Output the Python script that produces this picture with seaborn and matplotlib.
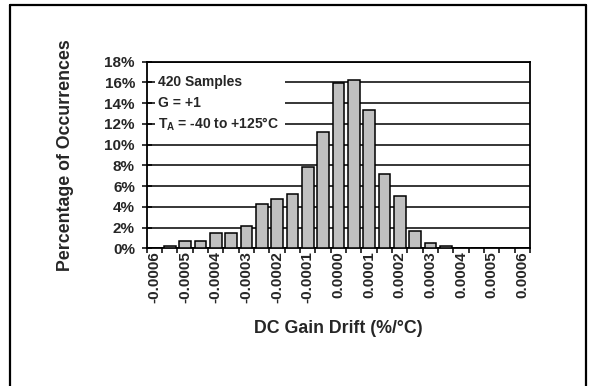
import matplotlib
matplotlib.use("Agg")
import matplotlib.pyplot as plt
import seaborn as sns
import pandas as pd
from matplotlib.patches import Rectangle

# ---- data ----
drift_bins = [-0.0006, -0.00055, -0.0005, -0.00045, -0.0004, -0.00035, -0.0003,
              -0.00025, -0.0002, -0.00015, -0.0001, -0.00005, 0.0, 0.00005,
              0.0001, 0.00015, 0.0002, 0.00025, 0.0003, 0.00035, 0.0004,
              0.00045, 0.0005, 0.00055, 0.0006]
occurrence_pct = [0.0, 0.24, 0.71, 0.71, 1.43, 1.43, 2.14, 4.29, 4.76, 5.24,
                  7.86, 11.19, 15.95, 16.19, 13.33, 7.14, 5.00, 1.67, 0.48, 0.24,
                  0.0, 0.0, 0.0, 0.0, 0.0]
x_tick_labels = ["-0.0006", "-0.0005", "-0.0004", "-0.0003", "-0.0002", "-0.0001",
                 "0.0000", "0.0001", "0.0002", "0.0003", "0.0004", "0.0005", "0.0006"]
y_ticks = [0, 2, 4, 6, 8, 10, 12, 14, 16, 18]
annotation_lines = ["420 Samples", "G = +1", "T$_\\mathrm{A}$ = -40 to +125°C"]

sns.set_style("white")
plt.rcParams['font.family'] = ['Liberation Sans', 'DejaVu Sans']
plt.rcParams['font.weight'] = 'bold'
plt.rcParams['mathtext.fontset'] = 'custom'
plt.rcParams['mathtext.rm'] = 'Liberation Sans:bold'
plt.rcParams['mathtext.it'] = 'Liberation Sans:bold'
plt.rcParams['mathtext.bf'] = 'Liberation Sans:bold'

df = pd.DataFrame({"bin": [f"{v:.5f}" for v in drift_bins], "pct": occurrence_pct})

fig = plt.figure(figsize=(5.89, 3.86), dpi=100)
ax = fig.add_axes([146.7 / 589, (386 - 248.3) / 386, (530 - 146.7) / 589, (248.3 - 61.7) / 386])

sns.barplot(data=df, x="bin", y="pct", order=list(df["bin"]), color="#C0C0C0",
            saturation=1, edgecolor="black", linewidth=1.1, width=0.76, ax=ax, zorder=3)

ax.set_xlim(-0.5, len(drift_bins) - 0.5)
ax.set_ylim(0, 18)
ax.set_axisbelow(True)
ax.yaxis.grid(True, color="black", linewidth=1.1)
ax.xaxis.grid(False)

# x ticks: labels on every other category, tick marks on category boundaries
ax.set_xticks(list(range(0, len(drift_bins), 2)))
ax.set_xticklabels(x_tick_labels, rotation=90, fontsize=11, fontweight='bold')
ax.tick_params(axis='x', which='major', length=0, pad=2)
ax.set_xticks([i - 0.5 for i in range(len(drift_bins) + 1)], minor=True)
ax.tick_params(axis='x', which='minor', direction='out', length=3.5, width=1.1, color='black', bottom=True)

ax.set_yticks(y_ticks)
ax.set_yticklabels([f"{t}%" for t in y_ticks], fontsize=11, fontweight='bold')
ax.tick_params(axis='y', direction='inout', length=7, width=1.1, color='black', pad=5, left=True)

for s in ax.spines.values():
    s.set_visible(True)
    s.set_color("black")
    s.set_linewidth(1.3)

ax.set_xlabel("DC Gain Drift (%/°C)", fontsize=12.8, fontweight='bold', labelpad=12)
ax.set_ylabel("Percentage of Occurrences", fontsize=12.8, fontweight='bold', labelpad=22)

# annotation box (white background hiding gridlines)
ax.add_patch(Rectangle((0.022, 11.0 / 18), 0.339, 6.0 / 18, transform=ax.transAxes,
                       facecolor="white", edgecolor="none", zorder=2))
for i, line in enumerate(annotation_lines):
    ax.text(0.03, (16 - 2 * i) / 18, line, transform=ax.transAxes, ha='left', va='center',
            fontsize=10, fontweight='bold', zorder=4)

# outer frame (left, top, right)
fig.add_artist(plt.Line2D([10 / 589, 10 / 589], [-0.02, (386 - 5) / 386], color='black', linewidth=1.6))
fig.add_artist(plt.Line2D([10 / 589, 586 / 589], [(386 - 5) / 386, (386 - 5) / 386], color='black', linewidth=1.6))
fig.add_artist(plt.Line2D([586 / 589, 586 / 589], [-0.02, (386 - 5) / 386], color='black', linewidth=1.6))

fig.savefig("out.png", dpi=100)
